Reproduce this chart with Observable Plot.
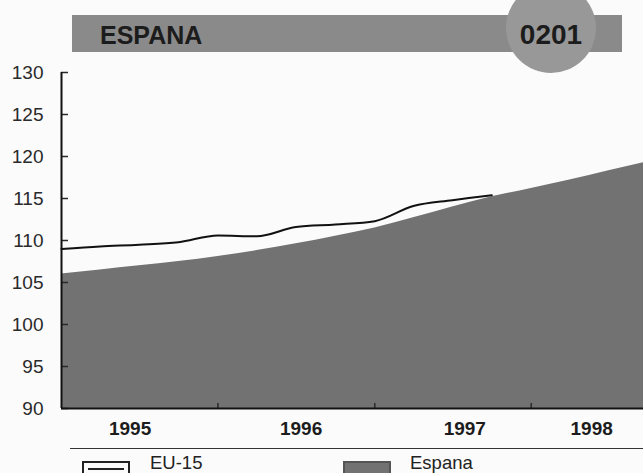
<!DOCTYPE html>
<html>
<head>
<meta charset="utf-8">
<script src="https://cdn.jsdelivr.net/npm/d3@7"></script>
<script src="https://cdn.jsdelivr.net/npm/@observablehq/plot@0.6"></script>
<style>
  html, body { margin: 0; padding: 0; background: #fbfbfb; }
  #wrap { position: relative; width: 643px; height: 473px; overflow: hidden; font-family: "Liberation Sans", Arial, sans-serif; }
  #bar { position: absolute; left: 72px; top: 15px; width: 550px; height: 37px; background: #8a8a8a; }
  #bar span { position: absolute; left: 28px; top: 6px; font-weight: bold; font-size: 25px; line-height: normal; color: #1c1c1c; }
  #badge { position: absolute; left: 506px; top: -17px; width: 90px; height: 90px; border-radius: 50%; background: #989898; }
  #badge span { position: absolute; left: 0; width: 90px; top: 36px; text-align: center; font-weight: bold; font-size: 28px; line-height: normal; color: #1c1c1c; }
  #rule { position: absolute; left: 70px; top: 448px; width: 573px; height: 0; border-top: 1.5px solid #333; }
  .lbox { position: absolute; top: 461px; width: 44px; height: 20px; border: 2px solid #222; }
  .ltext { position: absolute; top: 452px; font-size: 18.5px; line-height: normal; color: #222; }
  #chart { position: absolute; left: 0; top: 0; }
</style>
</head>
<body>
<div id="wrap">
  <div id="chart"></div>
  <div id="bar"><span id="title"></span></div>
  <div id="badge"><span id="code"></span></div>
  <div id="rule"></div>
  <div class="lbox" style="left:82px; background:#fbfbfb;"><div style="position:absolute;left:4px;right:4px;top:5px;border-top:2px solid #222;"></div></div>
  <div class="ltext" id="leg1" style="left:150px;"></div>
  <div class="lbox" style="left:343px; background:#727272; border-color:#555;"></div>
  <div class="ltext" id="leg2" style="left:410px;"></div>
</div>
<script>
const titleText = "ESPANA";
const codeText = "0201";
const seriesNames = ["EU-15", "Espana"];

const quarters = ["1995-01-01","1995-04-01","1995-07-01","1995-10-01",
                  "1996-01-01","1996-04-01","1996-07-01","1996-10-01",
                  "1997-01-01","1997-04-01","1997-07-01","1997-10-01",
                  "1998-01-01","1998-04-01","1998-07-01","1998-10-01"];
const espanaValues = [106.0,106.5,107.0,107.5,108.1,108.8,109.6,110.5,111.5,112.7,114.0,115.2,116.2,117.2,118.3,119.4];
const eu15Values = [109.0,109.3,109.5,109.8,110.6,110.5,111.6,111.9,112.3,114.1,114.8,115.4];

const yTicks = [90,95,100,105,110,115,120,125,130];
const yearTicks = ["1996-01-01","1997-01-01","1998-01-01"];
const yearLabels = ["1995","1996","1997","1998"];
const yearLabelDates = ["1995-06-10","1996-07-13","1997-07-30","1998-05-22"];
const xStart = "1995-01-01";
const xEnd = "1998-09-20";

document.getElementById("title").textContent = titleText;
document.getElementById("code").textContent = codeText;
document.getElementById("leg1").textContent = seriesNames[0];
document.getElementById("leg2").textContent = seriesNames[1];

const P = d3.utcParse("%Y-%m-%d");
const espana = quarters.map((q, i) => ({date: P(q), value: espanaValues[i]}));
const eu15 = eu15Values.map((v, i) => ({date: P(quarters[i]), value: v}));
const labels = yearLabels.map((t, i) => ({date: P(yearLabelDates[i]), text: t}));

const chart = Plot.plot({
  width: 643,
  height: 473,
  marginTop: 72,
  marginBottom: 65,
  marginLeft: 61,
  marginRight: 0,
  style: {background: "transparent", fontFamily: "'Liberation Sans', Arial, sans-serif", color: "#2a2a2a"},
  x: {type: "utc", domain: [P(xStart), P(xEnd)], axis: null},
  y: {domain: [90, 130], axis: null},
  marks: [
    Plot.areaY(espana, {x: "date", y1: 90, y2: "value", fill: "#727272", curve: "monotone-x", clip: true}),
    Plot.lineY(eu15, {x: "date", y: "value", stroke: "#111", strokeWidth: 2, curve: "monotone-x"}),
    Plot.axisY({ticks: yTicks, tickSize: 0, tickPadding: 18, fontSize: 19, label: null, tickFormat: d => String(d)}),
    Plot.axisY({ticks: yTicks, tickSize: -7, strokeWidth: 1.5, label: null, tickFormat: () => ""}),
    Plot.axisX({ticks: yearTicks.map(P), tickSize: -5, strokeWidth: 1.5, label: null, tickFormat: () => ""}),
    Plot.ruleX([P(xStart)], {y1: 90, y2: 130, stroke: "#111", strokeWidth: 2}),
    Plot.ruleY([90], {stroke: "#111", strokeWidth: 2}),
    Plot.text(labels, {x: "date", y: 90, dy: 20, text: "text", fontSize: 19, fontWeight: "bold", fill: "#1c1c1c", lineAnchor: "middle"})
  ]
});
document.getElementById("chart").appendChild(chart);
</script>
</body>
</html>
